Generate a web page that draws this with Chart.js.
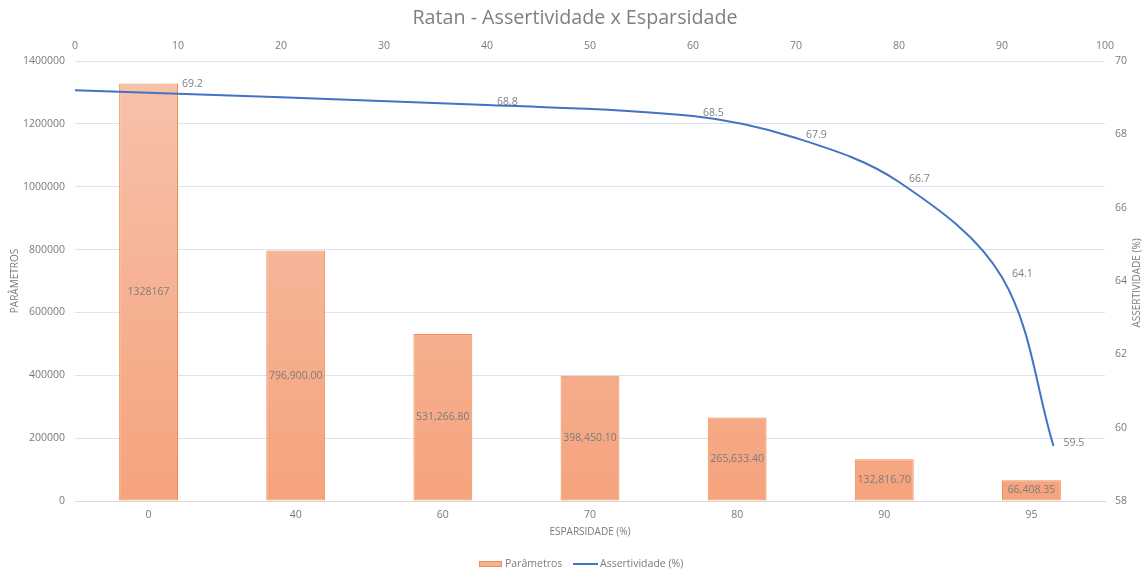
<!DOCTYPE html>
<html>
<head>
<meta charset="utf-8">
<script src="https://cdn.jsdelivr.net/npm/chart.js@4.4.0/dist/chart.umd.min.js"></script>
<style>
  html, body { margin: 0; padding: 0; background: #fff; }
  #wrap { width: 1146px; height: 573px; }
</style>
</head>
<body>
<div id="wrap"><canvas id="myChart"></canvas></div>
<script>
// categorias do eixo de baixo (esparsidade %)
const esparsidade = ['0', '40', '60', '70', '80', '90', '95']
// parametros de cada modelo
const parametros = [1328167, 796900, 531266.8, 398450.1, 265633.4, 132816.7, 66408.35]
// assertividade (%) no eixo de cima (0-100)
const assertX = [0, 40, 60, 70, 80, 90, 95]
const assertY = [69.2, 68.8, 68.5, 67.9, 66.7, 64.1, 59.5]

const fontFam = '"Open Sans", "DejaVu Sans", sans-serif'
const textGray = '#7a7a7a'

function fmtBar(v, i){
    if(i === 0) return String(v)
    return v.toLocaleString('en-US', {minimumFractionDigits: 2, maximumFractionDigits: 2})
}

const extras = {
    id: 'extras',
    afterDatasetsDraw(chart){
        const ctx = chart.ctx
        ctx.save()
        ctx.font = '10.5px ' + fontFam
        ctx.textBaseline = 'middle'

        // rotulos das barras
        const barMeta = chart.getDatasetMeta(0)
        ctx.fillStyle = '#7c7c7c'
        ctx.textAlign = 'center'
        barMeta.data.forEach((bar, i) => {
            ctx.fillText(fmtBar(parametros[i], i), bar.x, (bar.y + bar.base) / 2)
        })

        // rotulos da linha
        const lineMeta = chart.getDatasetMeta(1)
        ctx.fillStyle = '#808080'
        ctx.textAlign = 'left'
        lineMeta.data.forEach((pt, i) => {
            let x = pt.x + 10
            let y = pt.y - 3
            if(i === 0){
                // primeiro rotulo fica ao lado da primeira barra
                const b = barMeta.data[0]
                x = b.x + b.width / 2 + 4
                y = pt.y - 6
            }
            ctx.fillText(assertY[i].toFixed(1), x, y)
        })
        ctx.restore()
    },
    afterDraw(chart){
        const ctx = chart.ctx
        ctx.save()
        // titulo
        ctx.fillStyle = '#7f7f7f'
        ctx.font = '19.7px ' + fontFam
        ctx.textAlign = 'center'
        ctx.textBaseline = 'middle'
        ctx.fillText('Ratan - Assertividade x Esparsidade', 575, 18)

        // titulo eixo direito
        ctx.font = '10px ' + fontFam
        ctx.fillStyle = textGray
        ctx.translate(1137, 283)
        ctx.rotate(-Math.PI / 2)
        ctx.fillText('ASSERTIVIDADE (%)', 0, 0)
        ctx.setTransform(1, 0, 0, 1, 0, 0)

        // legenda
        const ly = 564
        ctx.font = '10.5px ' + fontFam
        ctx.textAlign = 'left'
        ctx.fillStyle = '#f6b295'
        ctx.fillRect(479, ly - 3, 23, 6)
        ctx.strokeStyle = '#ef8d52'
        ctx.lineWidth = 1
        ctx.strokeRect(479.5, ly - 2.5, 22, 5)
        ctx.fillStyle = textGray
        ctx.fillText('Parâmetros', 505, ly)
        ctx.strokeStyle = '#4472c4'
        ctx.lineWidth = 2
        ctx.beginPath()
        ctx.moveTo(573, ly)
        ctx.lineTo(598, ly)
        ctx.stroke()
        ctx.fillText('Assertividade (%)', 600, ly)
        ctx.restore()
    }
}

const el = document.getElementById('myChart')
new Chart(el, {
    type: 'bar',
    data: {
        labels: esparsidade,
        datasets: [{
            label: 'Parâmetros',
            data: parametros,
            xAxisID: 'x',
            yAxisID: 'y',
            backgroundColor: (c) => {
                const a = c.chart.chartArea
                if(!a) return '#f6b295'
                const g = c.chart.ctx.createLinearGradient(0, a.top, 0, a.bottom)
                g.addColorStop(0, '#f7c3ac')
                g.addColorStop(1, '#f5a37d')
                return g
            },
            borderColor: '#ef8d52',
            borderWidth: 1,
            borderSkipped: false,
            grouped: false,
            barPercentage: 0.4,
            categoryPercentage: 1,
            order: 2
        }, {
            type: 'line',
            label: 'Assertividade (%)',
            data: assertX.map((x, i) => ({x: x, y: assertY[i]})),
            xAxisID: 'x2',
            yAxisID: 'y2',
            borderColor: '#4472c4',
            borderWidth: 2,
            pointRadius: 0,
            tension: 0.35,
            fill: false,
            order: 1
        }]
    },
    options: {
        responsive: true,
        maintainAspectRatio: false,
        animation: false,
        layout: { padding: 0 },
        plugins: {
            legend: { display: false },
            title: { display: false },
            tooltip: { enabled: false }
        },
        scales: {
            x: {
                type: 'category',
                position: 'bottom',
                grid: { display: false, drawTicks: false },
                border: { display: true, color: '#d9d9d9', width: 1 },
                ticks: { color: textGray, font: { family: fontFam, size: 10.5 }, padding: 8 },
                title: {
                    display: true,
                    text: 'ESPARSIDADE (%)',
                    color: textGray,
                    font: { family: fontFam, size: 10 },
                    padding: { top: 0, bottom: 35 }
                },
                afterFit: (s) => { s.height = 72 }
            },
            x2: {
                type: 'linear',
                position: 'top',
                offset: false,
                min: 0,
                max: 100,
                grid: { display: false, drawTicks: false, offset: false },
                border: { display: false },
                ticks: { stepSize: 10, color: textGray, font: { family: fontFam, size: 10.5 }, padding: 9 },
                afterFit: (s) => { s.height = 61 }
            },
            y: {
                type: 'linear',
                position: 'left',
                min: 0,
                max: 1400000,
                grid: { color: '#dae3f3', drawTicks: false },
                border: { display: false },
                ticks: {
                    stepSize: 200000,
                    color: textGray,
                    font: { family: fontFam, size: 10.5 },
                    padding: 10,
                    callback: (v) => String(v)
                },
                title: {
                    display: true,
                    text: 'PARÂMETROS',
                    color: textGray,
                    font: { family: fontFam, size: 10 },
                    padding: { top: 9, bottom: 0 }
                },
                afterFit: (s) => { s.width = 75 }
            },
            y2: {
                type: 'linear',
                position: 'right',
                min: 58,
                max: 70,
                grid: { display: false, drawTicks: false },
                border: { display: false },
                ticks: { stepSize: 2, color: textGray, font: { family: fontFam, size: 10.5 }, padding: 10 },
                afterFit: (s) => { s.width = 41 }
            }
        }
    },
    plugins: [extras]
})
</script>
</body>
</html>
